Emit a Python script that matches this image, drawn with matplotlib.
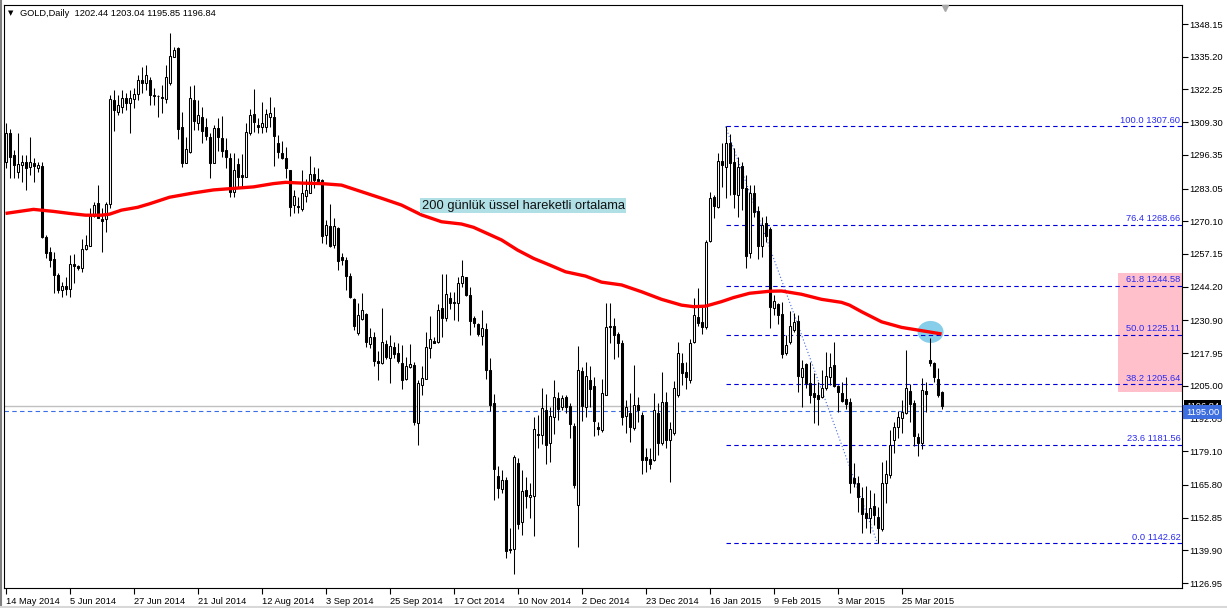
import matplotlib.pyplot as plt
from matplotlib.patches import Rectangle, Ellipse
from matplotlib.lines import Line2D
from matplotlib.transforms import blended_transform_factory
import numpy as np

plt.rcParams['font.family'] = ['Liberation Sans', 'DejaVu Sans']

# ---- daily GOLD candles (bar 0 = 14 May 2014) ----
opens = [1293.5, 1305.0, 1296.3, 1289.7, 1292.4, 1293.5, 1291.6, 1293.1, 1291.2, 1292.0,
         1263.9, 1257.9, 1255.2, 1248.8, 1242.9, 1244.5, 1243.3, 1253.2, 1252.4, 1251.6,
         1259.1, 1260.5, 1272.2, 1277.3, 1271.0, 1271.0, 1276.9, 1318.0, 1313.5, 1315.5,
         1319.0, 1317.0, 1318.5, 1320.5, 1326.0, 1325.0, 1326.0, 1319.9, 1319.7, 1319.2,
         1318.4, 1324.7, 1335.0, 1338.5, 1307.3, 1293.3, 1297.6, 1318.1, 1309.1, 1311.2,
         1307.3, 1303.6, 1293.3, 1306.9, 1302.9, 1298.3, 1295.0, 1281.8, 1292.8, 1288.4,
         1287.5, 1304.9, 1312.5, 1308.2, 1307.5, 1307.5, 1311.5, 1311.5, 1301.2, 1297.2,
         1295.0, 1290.4, 1276.4, 1276.1, 1274.8, 1280.1, 1281.4, 1288.8, 1286.7, 1286.4,
         1264.7, 1268.2, 1260.7, 1267.3, 1255.8, 1254.8, 1248.4, 1239.2, 1225.7, 1231.3,
         1233.4, 1221.5, 1224.2, 1214.9, 1213.9, 1221.5, 1215.9, 1220.2, 1217.8, 1213.9,
         1207.5, 1212.3, 1213.2, 1190.2, 1205.3, 1207.5, 1219.8, 1222.8, 1222.4, 1235.6,
         1231.7, 1239.6, 1238.3, 1237.6, 1245.5, 1248.2, 1240.9, 1232.0, 1229.4, 1224.7,
         1227.3, 1211.2, 1198.3, 1169.3, 1164.0, 1167.7, 1140.6, 1140.3, 1174.6, 1151.2,
         1163.7, 1160.9, 1161.4, 1185.9, 1185.5, 1195.4, 1182.2, 1192.7, 1200.0, 1196.7,
         1200.7, 1197.0, 1189.1, 1157.8, 1210.9, 1196.5, 1207.3, 1204.9, 1188.5, 1187.5,
         1201.3, 1228.6, 1228.6, 1225.5, 1221.8, 1193.0, 1194.3, 1188.1, 1197.4, 1193.4,
         1177.0, 1175.9, 1175.6, 1194.1, 1182.5, 1198.7, 1183.5, 1186.2, 1201.3, 1213.9,
         1210.6, 1207.3, 1222.4, 1232.1, 1230.3, 1228.1, 1262.4, 1279.6, 1275.9, 1294.0,
         1291.4, 1301.2, 1293.7, 1280.5, 1291.9, 1283.1, 1257.6, 1281.4, 1274.3, 1260.3,
         1269.3, 1266.9, 1235.6, 1237.4, 1233.4, 1217.8, 1222.4, 1227.1, 1230.8, 1208.4,
         1213.6, 1206.2, 1202.3, 1201.3, 1200.4, 1204.0, 1208.6, 1213.2, 1204.9, 1202.3,
         1199.6, 1198.7, 1168.4, 1166.4, 1160.5, 1154.5, 1152.5, 1157.4, 1153.0, 1148.2,
         1166.4, 1169.7, 1183.5, 1188.5, 1192.1, 1194.1, 1203.1, 1198.3, 1184.8, 1182.5,
         1203.1, 1215.2, 1214.1, 1207.5, 1202.44]
highs = [1309.0, 1306.6, 1298.3, 1305.0, 1296.3, 1296.3, 1303.4, 1295.1, 1293.5, 1293.5,
         1264.7, 1259.9, 1257.9, 1249.6, 1246.0, 1248.0, 1256.7, 1257.1, 1252.8, 1263.1,
         1264.7, 1275.3, 1277.7, 1284.4, 1275.3, 1277.7, 1320.0, 1322.0, 1320.0, 1322.0,
         1321.0, 1322.0, 1323.0, 1328.0, 1331.0, 1332.0, 1327.0, 1322.7, 1320.0, 1324.0,
         1331.9, 1344.5, 1339.0, 1339.0, 1313.5, 1303.6, 1323.6, 1324.0, 1318.1, 1315.4,
         1310.8, 1304.9, 1308.2, 1310.8, 1311.7, 1302.9, 1297.0, 1297.0, 1295.0, 1296.7,
         1309.1, 1314.4, 1322.4, 1310.8, 1317.4, 1314.4, 1319.1, 1315.2, 1304.2, 1301.8,
         1299.6, 1290.4, 1282.5, 1279.8, 1290.4, 1286.7, 1295.9, 1291.4, 1291.0, 1286.7,
         1270.6, 1276.9, 1271.3, 1268.0, 1257.4, 1255.8, 1249.7, 1239.6, 1237.6, 1241.6,
         1233.7, 1227.7, 1226.4, 1218.9, 1235.6, 1223.1, 1225.1, 1222.4, 1222.0, 1221.3,
         1216.5, 1221.5, 1214.5, 1207.3, 1212.8, 1226.4, 1232.6, 1224.4, 1237.4, 1249.2,
         1249.2, 1242.2, 1242.2, 1248.2, 1254.8, 1248.2, 1244.0, 1232.6, 1229.9, 1235.0,
         1229.7, 1215.9, 1201.7, 1173.2, 1171.6, 1168.8, 1148.6, 1177.6, 1176.3, 1171.6,
         1169.0, 1166.6, 1192.8, 1193.4, 1204.0, 1201.7, 1196.5, 1207.3, 1202.6, 1201.3,
         1201.3, 1198.3, 1190.1, 1220.7, 1212.5, 1214.5, 1212.8, 1208.6, 1190.8, 1207.5,
         1237.6, 1237.6, 1231.7, 1226.4, 1223.1, 1199.4, 1202.0, 1213.2, 1200.7, 1194.7,
         1180.2, 1180.2, 1202.0, 1198.0, 1210.6, 1202.6, 1190.8, 1207.0, 1222.4, 1218.1,
         1214.5, 1223.4, 1239.6, 1243.6, 1236.3, 1262.7, 1281.8, 1280.5, 1297.0, 1300.9,
         1307.6, 1304.6, 1299.0, 1295.7, 1293.7, 1288.4, 1284.4, 1284.4, 1276.1, 1271.9,
         1272.2, 1268.0, 1240.9, 1237.9, 1238.3, 1225.1, 1234.7, 1233.7, 1233.0, 1215.2,
         1214.1, 1214.5, 1209.9, 1206.6, 1211.2, 1218.5, 1218.1, 1222.4, 1205.3, 1206.6,
         1208.6, 1200.0, 1174.3, 1169.3, 1165.1, 1165.3, 1163.7, 1162.4, 1157.1, 1174.9,
         1175.6, 1187.5, 1190.8, 1195.1, 1199.4, 1219.1, 1205.7, 1199.4, 1186.2, 1208.0,
         1206.6, 1223.8, 1214.5, 1211.9, 1203.04]
lows = [1291.2, 1287.2, 1287.2, 1287.2, 1285.6, 1282.5, 1288.4, 1285.6, 1289.6, 1263.5,
        1255.6, 1252.0, 1241.7, 1241.7, 1240.1, 1240.9, 1240.1, 1245.6, 1250.8, 1250.0,
        1258.7, 1260.5, 1271.8, 1271.4, 1258.0, 1266.0, 1275.5, 1306.0, 1312.0, 1313.0,
        1314.0, 1305.0, 1315.0, 1318.0, 1321.0, 1322.0, 1316.0, 1316.1, 1311.2, 1312.8,
        1317.0, 1324.0, 1335.0, 1302.5, 1291.4, 1293.1, 1297.0, 1306.2, 1306.2, 1301.2,
        1302.3, 1287.1, 1293.1, 1298.0, 1295.7, 1291.0, 1279.8, 1279.6, 1283.5, 1283.7,
        1287.5, 1304.2, 1305.5, 1305.1, 1305.1, 1305.5, 1307.3, 1292.1, 1295.0, 1294.6,
        1287.1, 1272.2, 1273.5, 1273.5, 1274.3, 1277.8, 1281.4, 1283.1, 1285.1, 1261.4,
        1261.1, 1259.8, 1259.4, 1250.8, 1252.8, 1242.9, 1239.6, 1227.1, 1225.1, 1231.0,
        1220.4, 1219.8, 1212.8, 1207.3, 1213.6, 1215.5, 1206.0, 1215.9, 1213.9, 1203.6,
        1207.3, 1211.9, 1189.5, 1181.6, 1201.3, 1207.5, 1215.9, 1221.8, 1221.8, 1224.4,
        1230.8, 1235.2, 1231.0, 1230.8, 1244.1, 1240.5, 1225.1, 1228.1, 1224.7, 1221.1,
        1207.5, 1195.1, 1159.8, 1160.5, 1162.4, 1136.7, 1138.7, 1130.5, 1148.2, 1145.9,
        1156.5, 1152.5, 1145.5, 1180.2, 1182.0, 1174.0, 1174.9, 1185.9, 1191.4, 1195.4,
        1194.1, 1184.2, 1164.4, 1141.3, 1191.2, 1192.7, 1196.7, 1185.1, 1185.5, 1186.8,
        1201.3, 1221.8, 1215.5, 1216.5, 1189.5, 1186.4, 1182.9, 1187.5, 1190.8, 1170.1,
        1171.0, 1171.9, 1175.3, 1177.6, 1181.6, 1180.2, 1167.0, 1185.5, 1200.7, 1205.3,
        1203.6, 1206.2, 1221.8, 1228.6, 1225.5, 1227.3, 1262.0, 1271.3, 1275.2, 1283.5,
        1279.2, 1280.5, 1275.2, 1271.9, 1274.5, 1251.5, 1255.4, 1271.7, 1255.0, 1256.1,
        1262.0, 1227.7, 1233.0, 1229.4, 1215.9, 1217.2, 1221.5, 1226.4, 1202.6, 1196.7,
        1204.0, 1198.1, 1190.2, 1189.5, 1200.0, 1203.3, 1205.3, 1204.6, 1194.7, 1198.7,
        1195.7, 1162.7, 1164.8, 1155.2, 1146.6, 1148.6, 1146.6, 1149.9, 1142.62, 1147.6,
        1158.5, 1168.4, 1178.3, 1184.2, 1186.2, 1193.8, 1190.8, 1181.0, 1177.2, 1179.9,
        1194.7, 1212.8, 1206.6, 1200.7, 1195.85]
closes = [1305.0, 1295.5, 1292.4, 1292.8, 1293.5, 1291.2, 1293.5, 1292.0, 1292.4, 1263.9,
          1257.5, 1254.8, 1248.8, 1242.9, 1244.5, 1243.3, 1253.2, 1252.4, 1251.6, 1259.1,
          1260.7, 1272.2, 1276.5, 1271.4, 1270.2, 1276.9, 1318.5, 1314.0, 1316.0, 1319.0,
          1317.0, 1319.0, 1320.5, 1326.0, 1325.0, 1328.0, 1320.0, 1319.5, 1319.5, 1319.0,
          1327.1, 1335.5, 1337.9, 1306.5, 1293.3, 1298.6, 1318.7, 1309.9, 1312.2, 1305.9,
          1303.8, 1293.1, 1306.9, 1303.3, 1298.0, 1295.4, 1281.8, 1290.4, 1287.5, 1287.7,
          1305.3, 1312.2, 1309.2, 1307.5, 1309.1, 1312.5, 1312.8, 1304.0, 1297.6, 1295.0,
          1291.0, 1275.9, 1280.1, 1275.6, 1281.2, 1282.5, 1288.8, 1286.4, 1286.2, 1264.3,
          1268.6, 1260.3, 1268.2, 1254.5, 1254.8, 1248.4, 1240.0, 1228.6, 1233.0, 1235.0,
          1222.4, 1224.4, 1214.9, 1213.9, 1222.4, 1216.3, 1220.7, 1217.6, 1214.9, 1207.3,
          1212.8, 1213.6, 1190.8, 1206.0, 1207.9, 1220.2, 1223.4, 1222.0, 1235.0, 1231.7,
          1241.3, 1237.6, 1237.6, 1245.8, 1248.4, 1240.9, 1230.8, 1229.9, 1225.5, 1227.7,
          1211.2, 1197.4, 1172.0, 1164.4, 1167.7, 1139.7, 1140.0, 1176.7, 1150.3, 1163.5,
          1161.4, 1161.8, 1187.7, 1185.5, 1196.1, 1181.6, 1193.0, 1200.7, 1195.7, 1200.3,
          1196.7, 1189.9, 1165.7, 1211.2, 1197.0, 1208.9, 1203.6, 1191.2, 1187.8, 1202.0,
          1228.1, 1228.1, 1225.1, 1222.0, 1192.7, 1196.5, 1188.5, 1197.4, 1195.4, 1175.6,
          1175.6, 1174.0, 1195.4, 1182.5, 1198.7, 1183.5, 1187.8, 1204.0, 1217.8, 1210.2,
          1208.4, 1221.8, 1233.0, 1229.9, 1228.1, 1262.0, 1279.2, 1276.1, 1294.0, 1292.4,
          1301.2, 1293.3, 1280.9, 1291.4, 1283.1, 1256.3, 1281.4, 1273.9, 1260.3, 1268.6,
          1264.3, 1236.3, 1238.6, 1233.0, 1217.6, 1221.1, 1228.6, 1230.3, 1208.8, 1211.9,
          1205.9, 1201.3, 1200.7, 1199.6, 1204.0, 1208.8, 1212.5, 1204.9, 1202.6, 1199.1,
          1197.8, 1166.6, 1166.4, 1160.9, 1154.3, 1152.5, 1156.5, 1153.9, 1148.6, 1166.6,
          1170.1, 1181.6, 1188.5, 1192.5, 1194.7, 1204.0, 1197.8, 1185.1, 1182.5, 1203.3,
          1201.7, 1214.1, 1208.4, 1201.3, 1196.84]

# 200 day EMA, sampled off the red line
ema_bars = [0, 7, 12, 16, 20, 24, 26, 29, 33, 36, 41, 47, 52, 57, 62, 67, 70, 74, 79, 84,
            89, 94, 99, 104, 109, 114, 117, 124, 128, 132, 136, 140, 145, 149, 154, 159,
            164, 169, 172, 175, 179, 182, 186, 191, 194, 199, 204, 209, 211, 214, 219,
            224, 229, 234]
ema_values = [1273.2, 1274.8, 1274.0, 1273.2, 1272.5, 1272.5, 1272.9, 1274.5, 1275.6,
              1277.0, 1279.6, 1281.3, 1282.5, 1283.1, 1283.7, 1285.0, 1285.5, 1285.2,
              1285.0, 1284.4, 1281.8, 1279.2, 1276.5, 1272.6, 1269.9, 1269.0, 1267.7,
              1262.7, 1258.7, 1255.4, 1252.8, 1250.1, 1248.4, 1246.0, 1244.9, 1242.2,
              1239.2, 1236.9, 1236.3, 1236.5, 1238.3, 1239.9, 1241.6, 1242.4, 1242.5,
              1241.2, 1239.2, 1238.0, 1236.9, 1234.3, 1230.3, 1228.1, 1226.8, 1225.5]

fib_pct = ['100.0', '76.4', '61.8', '50.0', '38.2', '23.6', '0.0']
fib_levels = [1307.60, 1268.66, 1244.58, 1225.11, 1205.64, 1181.56, 1142.62]
fib_start, fib_end = 180, 218

date_bars = [0, 16, 32, 48, 64, 80, 96, 112, 128, 144, 160, 176, 192, 208, 224]
date_labels = ['14 May 2014', '5 Jun 2014', '27 Jun 2014', '21 Jul 2014', '12 Aug 2014',
               '3 Sep 2014', '25 Sep 2014', '17 Oct 2014', '10 Nov 2014', '2 Dec 2014',
               '23 Dec 2014', '16 Jan 2015', '9 Feb 2015', '3 Mar 2015', '25 Mar 2015']
price_ticks = [1348.15, 1335.20, 1322.25, 1309.30, 1296.35, 1283.05, 1270.10, 1257.15,
               1244.20, 1230.90, 1217.95, 1205.00, 1192.05, 1179.10, 1165.80, 1152.85,
               1139.90, 1126.95]

W, H = 1227, 608
fig = plt.figure(figsize=(W / 100, H / 100), dpi=100)
fig.patch.set_facecolor('white')
ax = fig.add_axes([4 / W, 20.5 / H, 1178 / W, 583 / H])
xmin, xmax = -0.375, 294.1
ax.set_xlim(xmin, xmax)
ax.set_ylim(1125.17, 1355.87)

# zone and highlight
ax.add_patch(Rectangle((278, 1202.7), xmax - 278, 1249.6 - 1202.7,
                       facecolor='#ffc0cb', edgecolor='none', zorder=1))
ax.add_patch(Ellipse((231.25, 1226.3), 6.5, 8.7, facecolor='#87ceeb',
                     edgecolor='none', zorder=1.5))

# horizontal lines
ax.axhline(1196.84, color='#c0c0c0', lw=1.0, zorder=1.6)
ax.axhline(1195.00, color='#3a6ee8', lw=0.8, ls=(0, (4, 3)), zorder=1.6)

# fibonacci
ax.hlines(fib_levels, fib_start, xmax, colors='#0000dd', lw=0.8,
          linestyles=(0, (4, 3)), zorder=2)
ax.plot([fib_start, fib_end], [fib_levels[0], fib_levels[-1]], color='#4169e1',
        lw=0.8, ls=(0, (1, 2)), zorder=2)
for p, lv in zip(fib_pct, fib_levels):
    ax.text(xmax - 0.4, lv + 0.6, f'{p} {lv:.2f}', ha='right', va='bottom',
            fontsize=6.7, color='#2a2af0', zorder=6)

# candles
o = np.array(opens)
h = np.array(highs)
l = np.array(lows)
c = np.array(closes)
x = np.arange(len(o))
up = c >= o
ax.vlines(x, l, h, color='black', lw=0.75, zorder=3)
lo = np.minimum(o, c)
bh = np.maximum(np.abs(c - o), 0.35)
ax.bar(x[up], bh[up], bottom=lo[up], width=0.5, facecolor='white',
       edgecolor='black', linewidth=0.75, zorder=4)
ax.bar(x[~up], bh[~up], bottom=lo[~up], width=0.5, facecolor='black',
       edgecolor='black', linewidth=0.75, zorder=4)

# EMA 200
ax.plot(ema_bars, ema_values, color='red', lw=2.4, zorder=5, solid_capstyle='butt')

ax.text(104, 1276.2, '200 günlük üssel hareketli ortalama', fontsize=9.3,
        ha='left', va='center', color='#111111', zorder=6,
        bbox=dict(boxstyle='square,pad=0.12', facecolor='#b0e0e6', edgecolor='none'))

# chart shift marker
ax.plot([234.9], [1354.6], marker='v', ms=4.5, color='#a8a8a8', clip_on=False, zorder=6)

# axes
for s in ax.spines.values():
    s.set_linewidth(0.8)
    s.set_color('black')
ax.yaxis.tick_right()
ax.set_yticks(price_ticks)
ax.set_yticklabels([f'{v:.2f}' for v in price_ticks])
ax.tick_params(axis='y', direction='out', length=4, width=0.8, pad=1.5, labelsize=6.7)
ax.set_xticks(date_bars)
ax.set_xticklabels(date_labels, ha='left')
ax.tick_params(axis='x', direction='out', length=4, width=0.8, pad=3, labelsize=6.7)

tr = blended_transform_factory(ax.transAxes, ax.transData)
ax.text(1.0035, 1196.84, '1196.84', transform=tr, ha='left', va='center', fontsize=6.7,
        color='white', clip_on=False, zorder=7,
        bbox=dict(boxstyle='square,pad=0.2', facecolor='black', edgecolor='none'))
ax.text(1.0035, 1194.6, '1195.00', transform=tr, ha='left', va='center', fontsize=6.7,
        color='white', clip_on=False, zorder=8,
        bbox=dict(boxstyle='square,pad=0.3', facecolor='#3d6fe0', edgecolor='none'))

# title
fig.text(8 / W, 1 - 13 / H, '▼', fontsize=5, va='center', ha='left', color='black',
         family='DejaVu Sans')
fig.text(20 / W, 1 - 13 / H, 'GOLD,Daily  1202.44 1203.04 1195.85 1196.84', fontsize=6.7,
         va='center', ha='left', color='black')

# window frame
fig.add_artist(Line2D([0.5 / W, 0.5 / W], [0, 1], color='#808080', lw=1.5))
fig.add_artist(Line2D([0, 1], [1.5 / H, 1.5 / H], color='#d8d8d8', lw=1.5))

fig.savefig('out.png', dpi=100)
